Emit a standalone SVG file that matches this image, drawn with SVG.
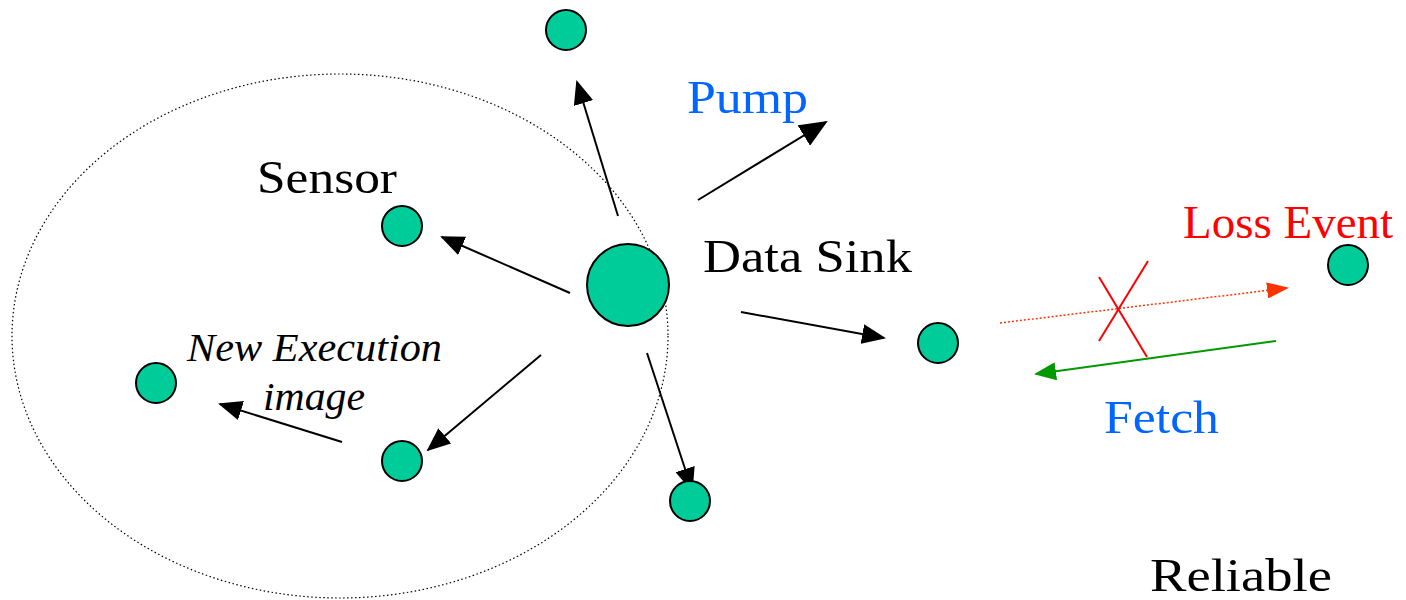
<svg xmlns="http://www.w3.org/2000/svg" width="1406" height="600" viewBox="0 0 1406 600">
  <style>
    .node { fill: #00CC99; stroke: #000; stroke-width: 2; }
    .edge { stroke: #000; stroke-width: 2; fill: none; }
    text { font-family: "Liberation Serif", "DejaVu Serif", serif; }
    .blue { fill: #0066FF; }
    .red { fill: #FF0000; }
  </style>
  <defs>
    <marker id="ah" viewBox="0 0 24 20" refX="22" refY="10" markerWidth="24" markerHeight="20" markerUnits="userSpaceOnUse" orient="auto">
      <path d="M0,0 L24,10 L0,20 Z" fill="#000"/>
    </marker>
    <marker id="ahBig" viewBox="0 0 28 24" refX="26" refY="12" markerWidth="28" markerHeight="24" markerUnits="userSpaceOnUse" orient="auto">
      <path d="M0,0 L28,12 L0,24 Z" fill="#000"/>
    </marker>
    <marker id="ahRed" viewBox="0 0 22 16" refX="20" refY="8" markerWidth="22" markerHeight="16" markerUnits="userSpaceOnUse" orient="auto">
      <path d="M0,0 L22,8 L0,16 Z" fill="#FF3300"/>
    </marker>
    <marker id="ahGreen" viewBox="0 0 22 18" refX="20" refY="9" markerWidth="22" markerHeight="18" markerUnits="userSpaceOnUse" orient="auto">
      <path d="M0,0 L22,9 L0,18 Z" fill="#009900"/>
    </marker>
  </defs>

  <!-- scope of the sink's neighbourhood -->
  <ellipse cx="340" cy="336" rx="328" ry="262" fill="none" stroke="#000" stroke-width="1.2" stroke-dasharray="1.5 2.5"/>

  <g id="connectors">
    <line class="edge" x1="618" y1="216" x2="577" y2="82" marker-end="url(#ah)"/>
    <line class="edge" x1="698" y1="200" x2="826" y2="122" stroke-width="3" marker-end="url(#ahBig)"/>
    <line class="edge" x1="570" y1="293" x2="442" y2="237" marker-end="url(#ah)"/>
    <line class="edge" x1="541" y1="355" x2="428" y2="450" marker-end="url(#ah)"/>
    <line class="edge" x1="342" y1="442" x2="220" y2="404" marker-end="url(#ah)"/>
    <line class="edge" x1="647" y1="353" x2="692" y2="490" marker-end="url(#ah)"/>
    <line class="edge" x1="741" y1="312" x2="884" y2="338" marker-end="url(#ah)"/>
    <line x1="1000" y1="323" x2="1287" y2="288" stroke="#FF3300" stroke-width="1.5" stroke-dasharray="2 2" marker-end="url(#ahRed)"/>
    <line x1="1276" y1="341" x2="1036" y2="374" stroke="#009900" stroke-width="2" marker-end="url(#ahGreen)"/>
    <!-- cross over the lost packet -->
    <line x1="1099" y1="277" x2="1147" y2="357" stroke="#FF0000" stroke-width="2"/>
    <line x1="1148" y1="261" x2="1099" y2="341" stroke="#FF0000" stroke-width="2"/>
  </g>

  <g id="node-top"><circle class="node" cx="566" cy="30" r="20"/></g>
  <g id="node-sensor"><circle class="node" cx="402" cy="226" r="20"/></g>
  <g id="node-sink"><circle class="node" cx="628" cy="285" r="41"/></g>
  <g id="node-left"><circle class="node" cx="156" cy="383" r="20"/></g>
  <g id="node-bottom"><circle class="node" cx="402" cy="461" r="20"/></g>
  <g id="node-bottom-right"><circle class="node" cx="690" cy="501" r="20"/></g>
  <g id="node-relay"><circle class="node" cx="938" cy="343" r="20"/></g>
  <g id="node-far"><circle class="node" cx="1348" cy="265" r="20"/></g>

  <g id="labels" font-size="47">
    <text class="blue" x="687" y="113" textLength="121" lengthAdjust="spacingAndGlyphs">Pump</text>
    <text x="257" y="193" textLength="140" lengthAdjust="spacingAndGlyphs">Sensor</text>
    <text x="703" y="272" textLength="209" lengthAdjust="spacingAndGlyphs">Data Sink</text>
    <text class="red" x="1183" y="238" textLength="210" lengthAdjust="spacingAndGlyphs">Loss Event</text>
    <text x="187" y="361" font-size="39" font-style="italic" textLength="255" lengthAdjust="spacingAndGlyphs">New Execution</text>
    <text x="263" y="410" font-size="39" font-style="italic" textLength="102" lengthAdjust="spacingAndGlyphs">image</text>
    <text class="blue" x="1104" y="433" textLength="115" lengthAdjust="spacingAndGlyphs">Fetch</text>
    <text x="1150" y="591" textLength="182" lengthAdjust="spacingAndGlyphs">Reliable</text>
  </g>
</svg>
